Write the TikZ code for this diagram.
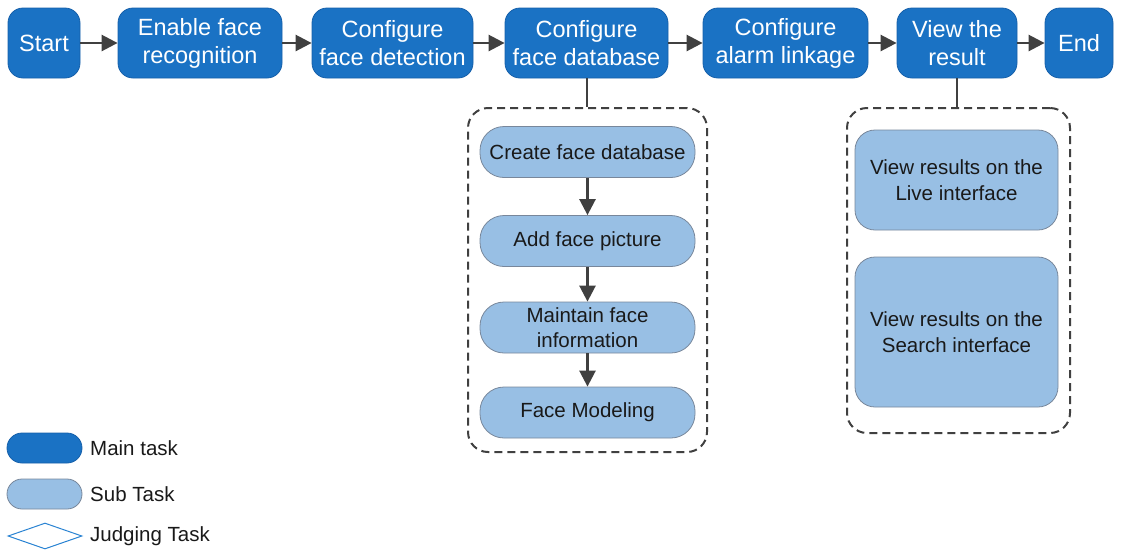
\documentclass[tikz,border=0pt]{standalone}
\usepackage{fontspec}
\setmainfont{Liberation Sans}
\usetikzlibrary{shapes.geometric,arrows.meta}
\definecolor{mainfill}{RGB}{26,114,196}
\definecolor{mainline}{RGB}{22,96,170}
\definecolor{subfill}{RGB}{152,191,228}
\definecolor{subline}{RGB}{120,135,155}
\definecolor{linegray}{RGB}{64,64,64}
\definecolor{diamblue}{RGB}{40,130,210}
\tikzset{
  mainbox/.style={draw=mainline, line width=0.8pt, fill=mainfill, text=white, rounded corners=15pt,
    inner sep=0pt, minimum height=70pt, align=center, font=\fontsize{23.5}{28}\selectfont},
  subbox/.style={draw=subline, line width=0.8pt, fill=subfill, text={black!90}, rounded corners=24pt,
    inner sep=0pt, minimum width=215pt, minimum height=51pt, align=center, font=\fontsize{20.5}{25.5}\selectfont},
  resbox/.style={subbox, rounded corners=20pt, minimum width=203pt},
  groupbox/.style={draw=linegray, line width=2pt, dash pattern=on 8pt off 5pt, rounded corners=20pt, inner sep=0pt},
  flow/.style={draw=linegray, line width=2.6pt, -{Triangle[length=16pt,width=16pt]}},
  plain/.style={draw=linegray, line width=2pt},
  legtext/.style={anchor=west, inner sep=0pt, font=\fontsize{20.5}{24}\selectfont, text={black!90}}
}
\begin{document}
\begin{tikzpicture}[x=1pt,y=-1pt]
\useasboundingbox (0,0) rectangle (1121,550);
% main flow
\node[mainbox, minimum width=72pt] (start) at (44,43) {Start};
\node[mainbox, minimum width=164pt] (enable) at (200,43) {Enable face\\recognition};
\node[mainbox, minimum width=161pt] (detect) at (392.5,43) {Configure\\face detection};
\node[mainbox, minimum width=163pt] (db) at (586.5,43) {Configure\\face database};
\node[mainbox, minimum width=165pt] (alarm) at (785.5,43) {Configure\\alarm linkage};
\node[mainbox, minimum width=120pt] (view) at (957,43) {View the\\result};
\node[mainbox, minimum width=68pt] (end) at (1079,43) {End};
\draw[flow] (start) -- (enable);
\draw[flow] (enable) -- (detect);
\draw[flow] (detect) -- (db);
\draw[flow] (db) -- (alarm);
\draw[flow] (alarm) -- (view);
\draw[flow] (view) -- (end);
% left group
\node[groupbox, minimum width=239pt, minimum height=344pt] (lgroup) at (587.5,280) {};
\node[subbox] (create) at (587.5,152) {Create face database};
\node[subbox] (addpic) at (587.5,241) {Add face picture};
\node[subbox] (maint) at (587.5,327.5) {Maintain face\\information};
\node[subbox] (model) at (587.5,412.5) {Face Modeling};
\draw[plain] (db.south) -- (db.south |- lgroup.north);
\draw[flow] (create) -- (addpic);
\draw[flow] (addpic) -- (maint);
\draw[flow] (maint) -- (model);
% right group
\node[groupbox, minimum width=223pt, minimum height=325pt] (rgroup) at (958.5,270.5) {};
\node[resbox, minimum height=100pt] (live) at (956.5,180) {View results on the\\Live interface};
\node[resbox, minimum height=150pt] (search) at (956.5,332) {View results on the\\Search interface};
\draw[plain] (view.south) -- (view.south |- rgroup.north);
% legend
\node[mainbox, minimum width=75pt, minimum height=30pt] (legmain) at (44.5,448) {};
\node[legtext] (legmaint) at (90,448) {Main task};
\node[subbox, rounded corners=15pt, minimum width=75pt, minimum height=30pt] (legsub) at (44.5,494) {};
\node[legtext] (legsubt) at (90,494) {Sub Task};
\node[diamond, draw=diamblue, line width=1pt, inner sep=0pt, minimum width=74pt, minimum height=26pt] (legdiam) at (45,536) {};
\node[legtext] (legdiamt) at (90,536) {Judging Task};
\end{tikzpicture}
\end{document}
